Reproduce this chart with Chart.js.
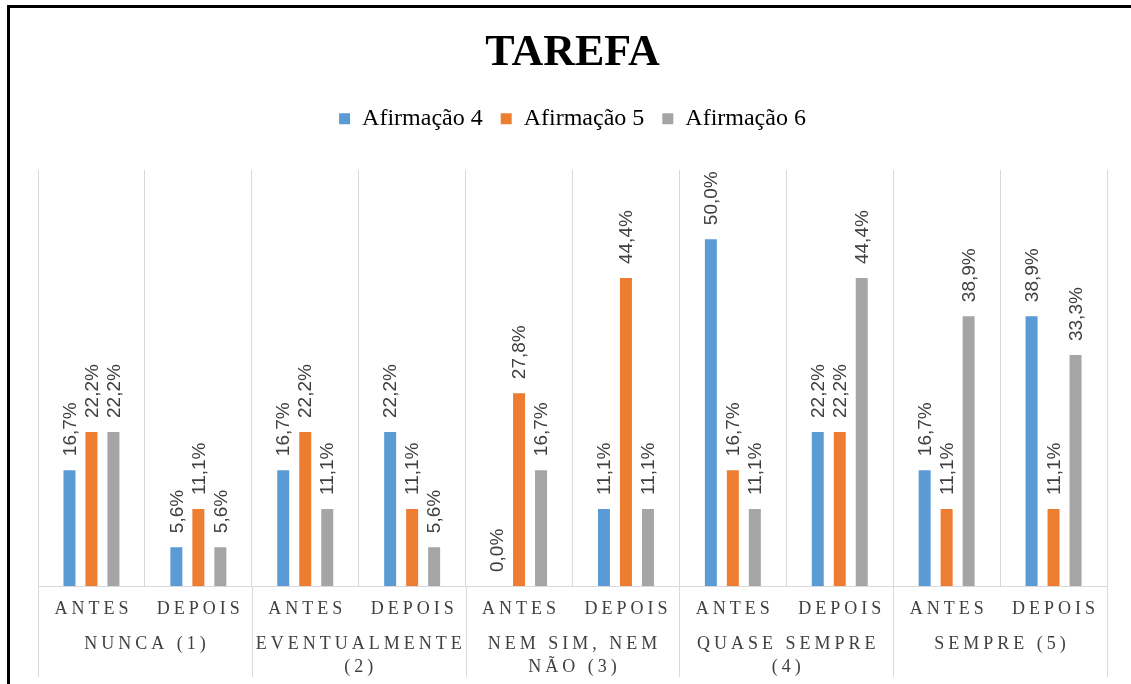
<!DOCTYPE html>
<html lang="pt">
<head>
<meta charset="utf-8">
<title>TAREFA</title>
<script src="https://cdn.jsdelivr.net/npm/chart.js@4/dist/chart.umd.min.js"></script>
<style>
  html, body { margin: 0; padding: 0; background: #fff; }
  #chart { display: block; }
</style>
</head>
<body>
<canvas id="chart" width="1131" height="684"></canvas>
<script>
// dados
const momentos = ["ANTES", "DEPOIS", "ANTES", "DEPOIS", "ANTES", "DEPOIS", "ANTES", "DEPOIS", "ANTES", "DEPOIS"];
const grupos = [["NUNCA (1)"], ["EVENTUALMENTE", "(2)"], ["NEM SIM, NEM", "NÃO (3)"], ["QUASE SEMPRE", "(4)"], ["SEMPRE (5)"]];
const afirmacao4 = [16.7, 5.6, 16.7, 22.2, 0.0, 11.1, 50.0, 22.2, 16.7, 38.9];
const afirmacao5 = [22.2, 11.1, 22.2, 11.1, 27.8, 44.4, 16.7, 22.2, 11.1, 11.1];
const afirmacao6 = [22.2, 5.6, 11.1, 5.6, 16.7, 11.1, 11.1, 44.4, 38.9, 33.3];
const yMax = 60;

const serif = "'Liberation Serif', 'Times New Roman', serif";
const sans = "'Liberation Sans', Arial, sans-serif";

// moldura preta (canto superior esquerdo)
const moldura = {
    id: "moldura",
    afterDraw(chart) {
        const ctx = chart.ctx;
        ctx.save();
        ctx.strokeStyle = "#000";
        ctx.lineWidth = 3;
        ctx.beginPath();
        ctx.moveTo(8.5, 684);
        ctx.lineTo(8.5, 6.5);
        ctx.lineTo(1131, 6.5);
        ctx.stroke();
        ctx.restore();
    }
};

// rótulos de valor na vertical
const rotulosValores = {
    id: "rotulosValores",
    afterDatasetsDraw(chart) {
        const ctx = chart.ctx;
        ctx.save();
        ctx.font = "19px " + sans;
        ctx.fillStyle = "#404040";
        ctx.textAlign = "left";
        ctx.textBaseline = "middle";
        chart.data.datasets.forEach((ds, i) => {
            chart.getDatasetMeta(i).data.forEach((bar, j) => {
                const txt = ds.data[j].toFixed(1).replace(".", ",") + "%";
                ctx.save();
                ctx.translate(bar.x + 1, bar.y - 14);
                ctx.rotate(-Math.PI / 2);
                ctx.fillText(txt, 0, 0);
                ctx.restore();
            });
        });
        ctx.restore();
    }
};

// eixo x em dois níveis, com espaçamento entre letras
function textoEspacado(ctx, txt, cx, y, esp) {
    ctx.letterSpacing = esp + "px";
    const w = ctx.measureText(txt).width - esp;
    ctx.fillText(txt, cx - w / 2, y);
}

const eixoDuplo = {
    id: "eixoDuplo",
    afterDraw(chart) {
        const ctx = chart.ctx;
        const x = chart.scales.x;
        const base = chart.chartArea.bottom;
        const passo = x.getPixelForValue(1) - x.getPixelForValue(0);
        ctx.save();
        // linhas separadoras dos grupos
        ctx.strokeStyle = "#d9d9d9";
        ctx.lineWidth = 1;
        for (let g = 0; g <= grupos.length; g++) {
            const px = Math.round(x.getPixelForValue(g * 2) - passo / 2) + 0.5;
            ctx.beginPath();
            ctx.moveTo(px, base);
            ctx.lineTo(px, 677);
            ctx.stroke();
        }
        ctx.font = "18px " + serif;
        ctx.fillStyle = "#404040";
        ctx.textAlign = "left";
        ctx.textBaseline = "middle";
        momentos.forEach((m, i) => {
            textoEspacado(ctx, m, x.getPixelForValue(i), 609, 4);
        });
        grupos.forEach((linhas, g) => {
            const cx = (x.getPixelForValue(g * 2) + x.getPixelForValue(g * 2 + 1)) / 2;
            linhas.forEach((l, k) => {
                textoEspacado(ctx, l, cx, 644 + k * 23, 4);
            });
        });
        ctx.restore();
    }
};

// espaço extra abaixo da legenda
const margemLegenda = {
    id: "margemLegenda",
    beforeInit(chart) {
        const fitOriginal = chart.legend.fit;
        chart.legend.fit = function fit() {
            fitOriginal.bind(chart.legend)();
            this.height += 29;
        };
    }
};

const ctx = document.getElementById("chart").getContext("2d");

new Chart(ctx, {
    type: "bar",
    data: {
        labels: momentos,
        datasets: [
            { label: "Afirmação 4", data: afirmacao4, backgroundColor: "#5B9BD5" },
            { label: "Afirmação 5", data: afirmacao5, backgroundColor: "#ED7D31" },
            { label: "Afirmação 6", data: afirmacao6, backgroundColor: "#A5A5A5" }
        ]
    },
    options: {
        responsive: false,
        animation: false,
        devicePixelRatio: 1,
        categoryPercentage: 0.617,
        barPercentage: 0.545,
        layout: { padding: { left: 38, right: 24, top: 0, bottom: 98 } },
        scales: {
            x: {
                grid: { offset: true, color: "#d9d9d9", drawTicks: false },
                border: { color: "#d9d9d9" },
                ticks: { display: false }
            },
            y: {
                display: false,
                min: 0,
                max: yMax
            }
        },
        plugins: {
            title: {
                display: true,
                text: "TAREFA",
                color: "#000",
                font: { family: serif, size: 44, weight: "bold" },
                padding: { top: 27, bottom: 9 }
            },
            legend: {
                display: true,
                position: "top",
                labels: {
                    color: "#000",
                    font: { family: serif, size: 24 },
                    boxWidth: 11,
                    boxHeight: 11,
                    padding: 18
                }
            },
            tooltip: { enabled: false }
        }
    },
    plugins: [margemLegenda, rotulosValores, eixoDuplo, moldura]
});
</script>
</body>
</html>
